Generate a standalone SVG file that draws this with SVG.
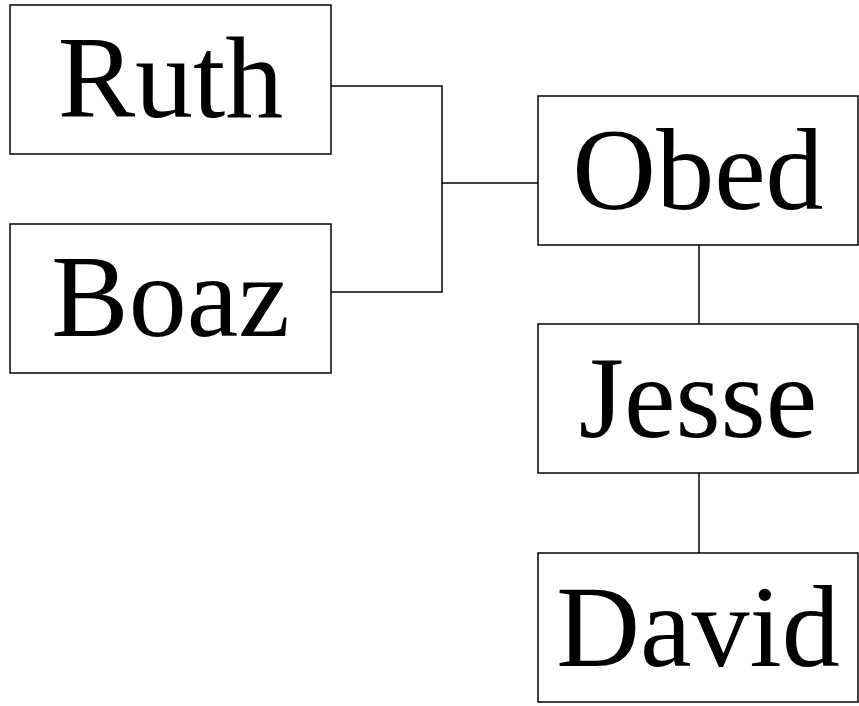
<svg xmlns="http://www.w3.org/2000/svg" width="859" height="706" viewBox="0 0 859 706">
<style>
.box{fill:#fff;stroke:#000;stroke-width:1.5}
.lbl{font-family:"Liberation Serif","Times New Roman",serif;font-size:116px;fill:#000;text-anchor:middle}
.con{fill:none;stroke:#000;stroke-width:1.5}
</style>
<rect width="859" height="706" fill="#fff"/>
<g id="connectors">
<polyline class="con" points="331,86 442,86 442,292 331,292"/>
<line class="con" x1="442" y1="183" x2="538" y2="183"/>
<line class="con" x1="699" y1="245" x2="699" y2="324"/>
<line class="con" x1="699" y1="473" x2="699" y2="553"/>
</g>
<g id="ruth"><rect class="box" x="10" y="5" width="321" height="149"/><text class="lbl" x="170.5" y="117">Ruth</text></g>
<g id="boaz"><rect class="box" x="10" y="224" width="321" height="149"/><text class="lbl" x="170.5" y="336">Boaz</text></g>
<g id="obed"><rect class="box" x="538" y="96" width="320" height="149"/><text class="lbl" x="698" y="209">Obed</text></g>
<g id="jesse"><rect class="box" x="538" y="324" width="320" height="149"/><text class="lbl" x="698" y="437">Jesse</text></g>
<g id="david"><rect class="box" x="538" y="553" width="320" height="149"/><text class="lbl" x="698" y="666">David</text></g>
</svg>
